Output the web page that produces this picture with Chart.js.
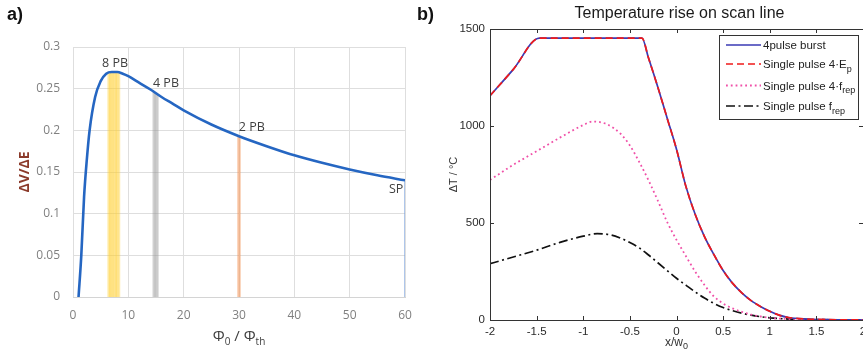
<!DOCTYPE html>
<html>
<head>
<meta charset="utf-8">
<script src="https://cdn.jsdelivr.net/npm/chart.js@4.4.1/dist/chart.umd.min.js"></script>
<style>
  body { margin: 0; width: 863px; height: 354px; overflow: hidden; position: relative; background: #fff; }
  .panel { position: absolute; top: 0; }
  .tag { position: absolute; top: 4px; font: bold 18px "Liberation Sans", Arial, sans-serif; color: #111; }
</style>
</head>
<body>
<div class="panel" style="left:0"><canvas id="chartA" width="430" height="354"></canvas></div>
<div class="panel" style="left:430px"><canvas id="chartB" width="445" height="354"></canvas></div>
<div class="tag" style="left:7px">a)</div>
<div class="tag" style="left:417px">b)</div>
<script>
// ---- panel a: specific removal rate vs. fluence ratio ----
const fluenceRatio = [1, 1.5, 2, 2.5, 3, 4, 5, 6, 7, 8, 9, 10, 12, 14, 16, 18, 20, 25, 30, 35, 40, 45, 50, 55, 60];
const removalRate = [0, 0.05, 0.12, 0.165, 0.2, 0.24, 0.259, 0.268, 0.27, 0.27, 0.268, 0.265, 0.257, 0.249, 0.24, 0.232, 0.224, 0.207, 0.193, 0.181, 0.17, 0.161, 0.153, 0.146, 0.14];

// drop lines for each burst mode (one line per pulse in the burst)
const burst8X = [6.45, 6.7, 6.95, 7.2, 7.5, 7.75, 8.0, 8.3];
const burst8Top = [0.268, 0.269, 0.27, 0.27, 0.27, 0.27, 0.27, 0.269];
const burst4X = [14.55, 14.8, 15.05, 15.3];
const burst4Top = [0.247, 0.246, 0.245, 0.243];
const burst2X = [29.85, 30.15];
const burst2Top = [0.194, 0.193];
const singleX = [60];
const singleTop = [0.14];

const modeLabels = ['8 PB', '4 PB', '2 PB', 'SP'];
const modeLabelX = [7.6, 16.8, 32.3, 58.4];
const modeLabelY = [0.28, 0.256, 0.203, 0.129];

// ---- panel b: temperature rise on scan line ----
const burstX = [-2, -1.75, -1.47, -0.37, -0.3, -0.2, -0.1, 0, 0.1, 0.2, 0.3, 0.4, 0.5, 0.6, 0.7, 0.8, 0.9, 1.0, 1.1, 1.2, 1.4, 1.6, 1.8, 2];
const burstTemp = [1156, 1292, 1453, 1453, 1350, 1200, 1040, 880, 690, 545, 430, 338, 255, 190, 140, 100, 70, 45, 25, 13, 5, 2, 1, 0];
// single pulse with 4x energy lies on top of the burst curve
const singleEpTemp = burstTemp;
const fourRepX = [-2, -1.75, -1.5, -1.25, -1, -0.9, -0.75, -0.6, -0.5, -0.4, -0.3, -0.2, -0.1, 0, 0.1, 0.2, 0.3, 0.4, 0.5, 0.6, 0.7, 0.8, 0.9, 1.0, 1.2, 1.5, 2];
const fourRepTemp = [722, 800, 870, 940, 1005, 1023, 1010, 960, 900, 815, 720, 615, 505, 413, 330, 250, 180, 122, 85, 60, 42, 28, 18, 11, 5, 2, 0];
const oneRepX = [-2, -1.75, -1.5, -1.25, -1, -0.85, -0.7, -0.6, -0.5, -0.4, -0.3, -0.2, -0.1, 0, 0.1, 0.2, 0.3, 0.4, 0.5, 0.6, 0.7, 0.8, 0.9, 1.0, 1.2, 1.5, 2];
const oneRepTemp = [290, 325, 360, 400, 432, 445, 438, 422, 400, 372, 335, 295, 255, 215, 180, 145, 113, 86, 64, 48, 35, 25, 17, 11, 5, 2, 0];

const legendNames = ['4pulse burst', 'Single pulse 4·E', 'Single pulse 4·f', 'Single pulse f'];
const legendSubs = ['', 'p', 'rep', 'rep'];

function zip(xs, ys) {
    return xs.map((x, i) => ({ x: x, y: ys[i] }))
}

// draws a run of [text, size, dy] pieces centred on cx
function drawPieces(ctx, pieces, cx, baseY, family, align) {
    let widths = pieces.map(p => { ctx.font = p[1] + 'px ' + family; return ctx.measureText(p[0]).width })
    let total = widths.reduce((a, b) => a + b, 0)
    let x = align === 'left' ? cx : cx - total / 2
    ctx.textAlign = 'left'
    ctx.textBaseline = 'alphabetic'
    pieces.forEach((p, i) => {
        ctx.font = p[1] + 'px ' + family
        ctx.fillText(p[0], x, baseY + p[2])
        x += widths[i]
    })
}

function dropLines(xs, tops, color, width) {
    return xs.map((x, i) => ({
        data: [{ x: x, y: 0 }, { x: x, y: tops[i] }],
        borderColor: color,
        borderWidth: width,
        pointRadius: 0,
        showLine: true,
        order: 2
    }))
}

const panelAText = {
    id: 'panelAText',
    afterDraw(chart) {
        const { ctx, chartArea, scales } = chart
        ctx.save()
        ctx.fillStyle = '#404040'
        ctx.font = '12.5px "Open Sans"'
        ctx.textAlign = 'center'
        ctx.textBaseline = 'middle'
        modeLabels.forEach((t, i) => {
            ctx.fillText(t, scales.x.getPixelForValue(modeLabelX[i]), scales.y.getPixelForValue(modeLabelY[i]))
        })
        const cx = (chartArea.left + chartArea.right) / 2
        drawPieces(ctx, [['Φ', 15, 0], ['0', 10, 4], [' / Φ', 15, 0], ['th', 10, 4]], cx, 341, '"Open Sans"')
        ctx.translate(25, (chartArea.top + chartArea.bottom) / 2)
        ctx.rotate(-Math.PI / 2)
        ctx.font = 'bold 14px "Open Sans"'
        ctx.fillStyle = '#8b3a2a'
        ctx.textAlign = 'center'
        ctx.textBaseline = 'middle'
        ctx.fillText('ΔV/ΔE', 0, 0)
        ctx.restore()
    }
}

new Chart(document.getElementById('chartA'), {
    type: 'scatter',
    data: {
        datasets: [
            {
                data: zip(fluenceRatio, removalRate),
                showLine: true,
                borderColor: '#2566c2',
                borderWidth: 2.6,
                pointRadius: 0,
                cubicInterpolationMode: 'monotone',
                order: 0
            },
            ...dropLines(burst8X, burst8Top, 'rgba(255, 208, 50, 0.42)', 2.6),
            ...dropLines(burst4X, burst4Top, 'rgba(150, 150, 150, 0.42)', 2),
            ...dropLines(burst2X, burst2Top, 'rgba(244, 150, 90, 0.6)', 1.6),
            ...dropLines(singleX, singleTop, 'rgba(120, 160, 220, 0.8)', 1.5)
        ]
    },
    options: {
        responsive: false,
        devicePixelRatio: 1,
        animation: false,
        layout: { padding: { left: 0, right: 25, top: 47, bottom: 0 } },
        plugins: { legend: { display: false }, tooltip: { enabled: false } },
        scales: {
            x: {
                type: 'linear', min: 0, max: 60,
                ticks: { stepSize: 10, color: '#808080', padding: 11, font: { family: '"Open Sans"', size: 12 } },
                grid: { color: '#dedede', drawTicks: false },
                border: { color: '#d4d4d4' },
                afterFit: s => { s.height = 57 }
            },
            y: {
                min: 0, max: 0.3,
                ticks: { stepSize: 0.05, color: '#808080', padding: 13, font: { family: '"Open Sans"', size: 12 },
                    callback: v => String(+v.toFixed(2)) },
                grid: { color: '#dedede', drawTicks: false },
                border: { display: false },
                afterFit: s => { s.width = 73 }
            }
        }
    },
    plugins: [panelAText]
});

const panelBFrame = {
    id: 'panelBFrame',
    afterDraw(chart) {
        const { ctx, chartArea: a, scales } = chart
        const font = '"Liberation Sans", Arial'
        ctx.save()
        ctx.strokeStyle = '#333'
        ctx.lineWidth = 1
        ctx.strokeRect(Math.round(a.left) + 0.5, Math.round(a.top) + 0.5, Math.round(a.right - a.left), Math.round(a.bottom - a.top))
        ctx.beginPath()
        scales.x.ticks.forEach(t => {
            const px = Math.round(scales.x.getPixelForValue(t.value)) + 0.5
            ctx.moveTo(px, a.bottom); ctx.lineTo(px, a.bottom - 4)
            ctx.moveTo(px, a.top); ctx.lineTo(px, a.top + 4)
        })
        scales.y.ticks.forEach(t => {
            const py = Math.round(scales.y.getPixelForValue(t.value)) + 0.5
            ctx.moveTo(a.left, py); ctx.lineTo(a.left + 4, py)
            ctx.moveTo(a.right, py); ctx.lineTo(a.right - 4, py)
        })
        ctx.stroke()

        const cx = (a.left + a.right) / 2
        ctx.fillStyle = '#1a1a1a'
        ctx.font = '16px ' + font
        ctx.textAlign = 'center'
        ctx.textBaseline = 'middle'
        ctx.fillText('Temperature rise on scan line', cx + 3, 14)

        ctx.fillStyle = '#333'
        drawPieces(ctx, [['x/w', 12, 0], ['0', 9, 3]], cx, 346, font)

        ctx.save()
        ctx.translate(24, (a.top + a.bottom) / 2)
        ctx.rotate(-Math.PI / 2)
        ctx.font = '11px ' + font
        ctx.textAlign = 'center'
        ctx.textBaseline = 'middle'
        ctx.fillText('ΔT / °C', 0, 0)
        ctx.restore()

        // legend box
        const boxR = a.right - 5, boxT = a.top + 6, boxW = 139, boxH = 84
        const boxL = boxR - boxW
        ctx.fillStyle = '#fff'
        ctx.fillRect(boxL, boxT, boxW, boxH)
        ctx.strokeStyle = '#333'
        ctx.strokeRect(Math.round(boxL) + 0.5, Math.round(boxT) + 0.5, boxW, boxH)
        const rows = [10, 29, 50.5, 71]
        chart.data.datasets.forEach((ds, i) => {
            const y = boxT + rows[i]
            ctx.save()
            ctx.strokeStyle = ds.borderColor
            ctx.lineWidth = ds.borderWidth
            ctx.setLineDash(ds.borderDash || [])
            ctx.beginPath()
            ctx.moveTo(boxL + 7, y)
            ctx.lineTo(boxL + 42, y)
            ctx.stroke()
            ctx.restore()
            ctx.fillStyle = '#222'
            const pieces = [[legendNames[i], 11.5, 0]]
            if (legendSubs[i]) pieces.push([legendSubs[i], 9, 3.5])
            drawPieces(ctx, pieces, boxL + 44, y + 4, font, 'left')
        })
        ctx.restore()
    }
}

new Chart(document.getElementById('chartB'), {
    type: 'scatter',
    data: {
        datasets: [
            {
                data: zip(burstX, burstTemp),
                borderColor: '#3a3ab4', borderWidth: 1.7, order: 2
            },
            {
                data: zip(burstX, singleEpTemp),
                borderColor: '#f01a1a', borderWidth: 1.7, borderDash: [7, 4], order: 1
            },
            {
                data: zip(fourRepX, fourRepTemp),
                borderColor: '#f050a8', borderWidth: 1.8, borderDash: [1.8, 3], order: 3
            },
            {
                data: zip(oneRepX, oneRepTemp),
                borderColor: '#111', borderWidth: 1.7, borderDash: [9, 3.5, 2, 3.5], order: 4
            }
        ].map(ds => Object.assign(ds, { showLine: true, pointRadius: 0, cubicInterpolationMode: 'monotone' }))
    },
    options: {
        responsive: false,
        devicePixelRatio: 1,
        animation: false,
        layout: { padding: { left: 0, right: 12, top: 29, bottom: 0 } },
        plugins: { legend: { display: false }, tooltip: { enabled: false } },
        scales: {
            x: {
                type: 'linear', min: -2, max: 2,
                ticks: { stepSize: 0.5, color: '#2a2a2a', padding: 5, font: { family: '"Liberation Sans", Arial', size: 11.5 },
                    callback: v => String(v) },
                grid: { display: false, drawTicks: false },
                border: { display: false },
                afterFit: s => { s.height = 34 }
            },
            y: {
                min: 0, max: 1500,
                ticks: { stepSize: 500, color: '#2a2a2a', padding: 5, font: { family: '"Liberation Sans", Arial', size: 11.5 },
                    callback: v => String(v) },
                grid: { display: false, drawTicks: false },
                border: { display: false },
                afterFit: s => { s.width = 60 }
            }
        }
    },
    plugins: [panelBFrame]
});
</script>
</body>
</html>
